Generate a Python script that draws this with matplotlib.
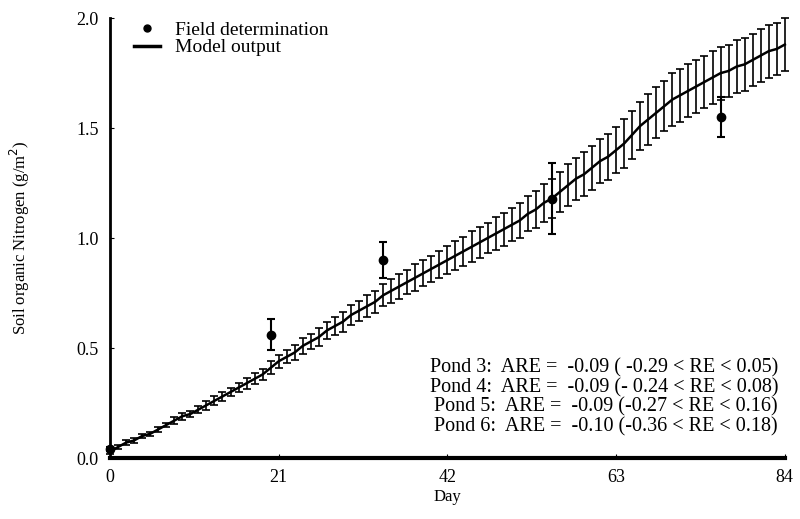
import matplotlib.pyplot as plt
from matplotlib.lines import Line2D
import numpy as np

plt.rcParams['font.family'] = ['Liberation Serif', 'DejaVu Serif']

# model output, one value per day (0..84)
days = np.arange(0, 85)
model = [0.03, 0.05, 0.07, 0.08, 0.10, 0.11, 0.13, 0.15, 0.17, 0.19,
         0.20, 0.22, 0.24, 0.26, 0.28, 0.30, 0.32, 0.34, 0.36, 0.38,
         0.41, 0.44, 0.46, 0.48, 0.51, 0.53, 0.55, 0.58, 0.60, 0.62,
         0.65, 0.67, 0.69, 0.71, 0.74, 0.76, 0.78, 0.80, 0.82, 0.84,
         0.86, 0.88, 0.90, 0.92, 0.94, 0.96, 0.98, 1.00, 1.02, 1.04,
         1.06, 1.08, 1.11, 1.13, 1.16, 1.18, 1.21, 1.24, 1.27, 1.29,
         1.32, 1.35, 1.37, 1.40, 1.43, 1.47, 1.51, 1.54, 1.57, 1.60,
         1.63, 1.65, 1.67, 1.69, 1.71, 1.73, 1.75, 1.76, 1.78, 1.79,
         1.81, 1.83, 1.85, 1.86, 1.88]
model_err = [0.01, 0.01, 0.01, 0.01, 0.01, 0.01, 0.01, 0.01, 0.015, 0.015,
             0.015, 0.015, 0.02, 0.02, 0.02, 0.02, 0.02, 0.025, 0.025, 0.025,
             0.03, 0.03, 0.03, 0.035, 0.035, 0.035, 0.04, 0.04, 0.04, 0.045,
             0.045, 0.045, 0.05, 0.05, 0.05, 0.055, 0.055, 0.055, 0.06, 0.06,
             0.06, 0.06, 0.065, 0.065, 0.065, 0.07, 0.07, 0.07, 0.075, 0.075,
             0.075, 0.08, 0.08, 0.085, 0.085, 0.09, 0.09, 0.095, 0.095, 0.10,
             0.10, 0.10, 0.105, 0.105, 0.11, 0.11, 0.11, 0.115, 0.115, 0.115,
             0.12, 0.12, 0.12, 0.12, 0.12, 0.12, 0.12, 0.12, 0.12, 0.12,
             0.12, 0.12, 0.12, 0.12, 0.12]

# field determinations
field_days = [0, 20, 34, 55, 76]
field = [0.04, 0.56, 0.90, 1.18, 1.55]
field_err = [0.01, 0.07, 0.08, 0.16, 0.09]

stats = ["Pond 3:  ARE =  -0.09 ( -0.29 < RE < 0.05)",
         "Pond 4:  ARE =  -0.09 (- 0.24 < RE < 0.08)",
         "Pond 5:  ARE =  -0.09 (-0.27 < RE < 0.16)",
         "Pond 6:  ARE =  -0.10 (-0.36 < RE < 0.18)"]

fig = plt.figure(figsize=(8, 5.19), dpi=100)
ax = fig.add_axes([0.1375, 0.1175, 0.8435, 0.8475])

ax.errorbar(days, model, yerr=model_err, color='black', linewidth=1.8,
            elinewidth=1.2, capsize=3, capthick=1.2, clip_on=False, zorder=2)
ax.errorbar(field_days, field, yerr=field_err, fmt='o', color='black',
            markersize=6, elinewidth=1.5, capsize=3, capthick=1.5,
            clip_on=False, zorder=3)

ax.set_xlim(0, 84)
ax.set_ylim(0, 2.0)
ax.set_xticks([0, 21, 42, 63, 84])
ax.set_yticks([0.0, 0.5, 1.0, 1.5, 2.0])
ax.yaxis.set_major_formatter(plt.FormatStrFormatter('%.1f'))
ax.tick_params(direction='in', length=3, labelsize=13, pad=8)

for s in ['top', 'right']:
    ax.spines[s].set_visible(False)
ax.spines['left'].set_linewidth(2)
ax.spines['bottom'].set_linewidth(3)

ax.set_xlabel('Day', fontsize=12, labelpad=2)
ax.set_ylabel('Soil organic Nitrogen (g/m$^2$)', fontsize=12, labelpad=32)

handles = [Line2D([], [], marker='o', linestyle='none', color='black',
                  markersize=5),
           Line2D([], [], color='black', linewidth=2.5)]
ax.legend(handles, ['Field determination', 'Model output'],
          loc='upper left', bbox_to_anchor=(0.01, 1.033),
          frameon=False, fontsize=14, handlelength=1.3, labelspacing=0.0,
          handletextpad=0.8)

for i, s in enumerate(stats):
    ax.text(0.99, 0.205 - i * 0.0445, s, transform=ax.transAxes,
            ha='right', va='center', fontsize=14.5)

fig.savefig('out.png', dpi=100)
